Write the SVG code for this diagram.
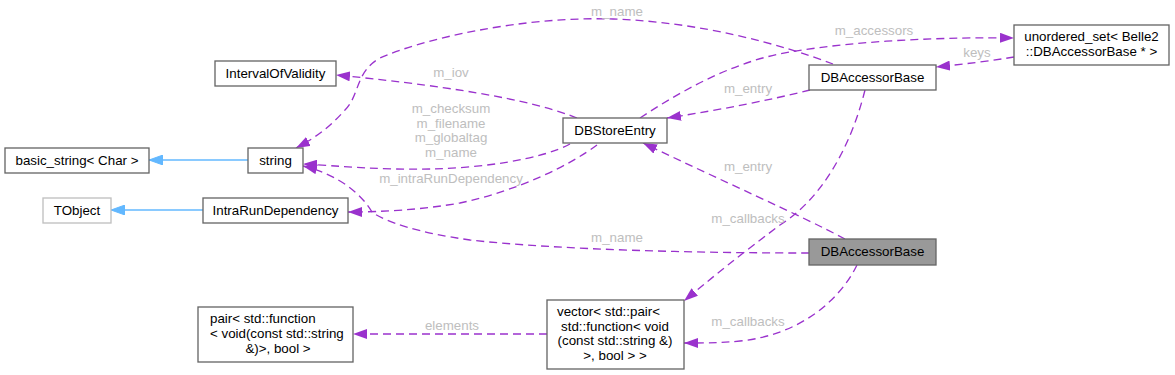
<svg xmlns="http://www.w3.org/2000/svg" width="1175" height="375" viewBox="0 0 1175 375">
<style>
text{font-family:"Liberation Sans",Arial,Helvetica,sans-serif;font-size:13.33px}
.n rect{fill:#fff;stroke:#666;stroke-width:1.33}
.n text{fill:#000}
.lt rect{stroke:#bfbfbf}
.hl rect{fill:#999}
.c{fill:none;stroke:#9a32cd;stroke-width:1.33;stroke-dasharray:8,5}
.b{fill:none;stroke:#63b8ff;stroke-width:1.33}
.l{fill:#bebebe;text-anchor:middle}
.m{text-anchor:middle}
</style>
<defs>
<marker id="ap" markerUnits="userSpaceOnUse" markerWidth="14" markerHeight="10" viewBox="0 0 14 10" refX="14" refY="5" orient="auto"><path d="M0,0 L14,5 L0,10 z" fill="#9a32cd"/></marker>
<marker id="ab" markerUnits="userSpaceOnUse" markerWidth="14" markerHeight="10" viewBox="0 0 14 10" refX="14" refY="5" orient="auto"><path d="M0,0 L14,5 L0,10 z" fill="#63b8ff" stroke="#63b8ff"/></marker>
</defs>
<rect width="1175" height="375" fill="#fff"/>
<g id="connectors">
<path class="b" d="M248,160 L149,160" marker-end="url(#ab)"/>
<path class="b" d="M203,210 L111,210" marker-end="url(#ab)"/>
<path class="c" d="M577,118 C540,103 470,88 336,75" marker-end="url(#ap)"/>
<path class="c" d="M570,144 C540,160 480,168 430,169 C380,170 340,166 303,164" marker-end="url(#ap)"/>
<path class="c" d="M597,145 C570,165 520,190 460,203 C420,210 380,212 348,212" marker-end="url(#ap)"/>
<path class="c" d="M833,64 C780,44 700,22 613,19 C520,16 420,40 380,58 C355,72 360,95 345,110 C330,127 315,138 296,148" marker-end="url(#ap)"/>
<path class="c" d="M640,118 C690,85 740,60 790,52 C860,40 950,37 1014,38" marker-end="url(#ap)"/>
<path class="c" d="M1014,57 C990,61 965,64 936,67" marker-end="url(#ap)"/>
<path class="c" d="M810,90 C770,100 720,110 667,118" marker-end="url(#ap)"/>
<path class="c" d="M845,239 C800,215 720,180 643,143" marker-end="url(#ap)"/>
<path class="c" d="M865,90 C850,150 820,200 780,225 C740,255 715,275 684,301" marker-end="url(#ap)"/>
<path class="c" d="M809,253 C700,253 560,250 470,240 C420,233 385,222 372,212 C362,195 340,175 303,166" marker-end="url(#ap)"/>
<path class="c" d="M857,265 C840,300 800,335 740,341 C720,343 710,343 684,343" marker-end="url(#ap)"/>
<path class="c" d="M547,334 L353,334" marker-end="url(#ap)"/>
<text class="l" x="617" y="16">m_name</text>
<text class="l" x="451" y="77">m_iov</text>
<text class="l" x="451" y="113">m_checksum</text>
<text class="l" x="451" y="128">m_filename</text>
<text class="l" x="451" y="142">m_globaltag</text>
<text class="l" x="451" y="157">m_name</text>
<text class="l" x="451" y="183">m_intraRunDependency</text>
<text class="l" x="874" y="35">m_accessors</text>
<text class="l" x="977" y="57">keys</text>
<text class="l" x="748" y="93">m_entry</text>
<text class="l" x="748" y="171">m_entry</text>
<text class="l" x="748" y="223">m_callbacks</text>
<text class="l" x="617" y="242">m_name</text>
<text class="l" x="748" y="326">m_callbacks</text>
<text class="l" x="452" y="330">elements</text>
</g>
<g id="IntervalOfValidity" class="n"><rect x="215" y="61" width="121" height="25"/><text class="m" x="275.5" y="78">IntervalOfValidity</text></g>
<g id="basic_string" class="n"><rect x="5" y="148" width="144" height="25"/><text class="m" x="77" y="165">basic_string&lt; Char &gt;</text></g>
<g id="string" class="n"><rect x="248" y="148" width="55" height="25"/><text class="m" x="275.5" y="165">string</text></g>
<g id="TObject" class="n lt"><rect x="43" y="198" width="68" height="25"/><text class="m" x="77" y="215">TObject</text></g>
<g id="IntraRunDependency" class="n"><rect x="203" y="198" width="145" height="25"/><text class="m" x="275.5" y="215">IntraRunDependency</text></g>
<g id="DBStoreEntry" class="n"><rect x="563" y="118" width="104" height="25"/><text class="m" x="615" y="135">DBStoreEntry</text></g>
<g id="DBAccessorBase_top" class="n"><rect x="809" y="65" width="127" height="25"/><text class="m" x="872.5" y="82">DBAccessorBase</text></g>
<g id="unordered_set" class="n"><rect x="1014" y="25" width="155" height="40"/><text class="m" x="1091.5" y="41">unordered_set&lt; Belle2</text><text class="m" x="1091.5" y="56">::DBAccessorBase * &gt;</text></g>
<g id="DBAccessorBase" class="n hl"><rect x="809" y="239" width="127" height="26"/><text class="m" x="872.5" y="256">DBAccessorBase</text></g>
<g id="pair" class="n"><rect x="198" y="307" width="155" height="55"/><text x="210" y="323">pair&lt; std::function</text><text x="210" y="338">&lt; void(const std::string</text><text class="m" x="278" y="353">&amp;)&gt;, bool &gt;</text></g>
<g id="vector" class="n"><rect x="547" y="300" width="137" height="69"/><text x="557" y="316">vector&lt; std::pair&lt;</text><text class="m" x="615" y="331">std::function&lt; void</text><text class="m" x="615" y="345">(const std::string &amp;)</text><text class="m" x="615" y="360">&gt;, bool &gt; &gt;</text></g>
</svg>
